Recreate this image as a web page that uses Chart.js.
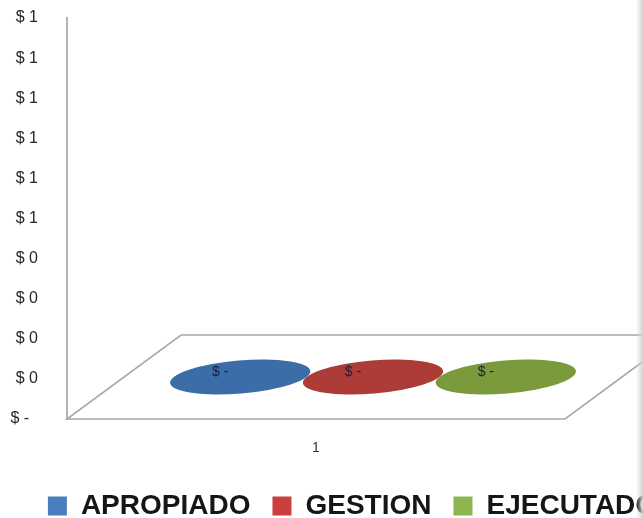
<!DOCTYPE html>
<html>
<head>
<meta charset="utf-8">
<script src="https://cdn.jsdelivr.net/npm/chart.js@4"></script>
<style>
  html, body { margin: 0; padding: 0; background: #fff; overflow: hidden; }
  #wrap { position: relative; width: 643px; height: 518px; overflow: hidden; background: #fff; }
  #box { position: absolute; left: 0; top: 0; }
  #edge { position: absolute; right: 0; top: 0; width: 7px; height: 518px;
          background: linear-gradient(to right, rgba(215,215,215,0), #d2d2d2); }
</style>
</head>
<body>
<div id="wrap">
  <div id="box"><canvas id="chart" width="705" height="530"></canvas></div>
  <div id="edge"></div>
</div>
<script>
// data (all three series are zero)
const categories = ["1"];
const seriesNames = ["APROPIADO", "GESTION", "EJECUTADO"];
const apropiado = [0];
const gestion = [0];
const ejecutado = [0];
const yTickLabels = ["$ -  ", "$ 0", "$ 0", "$ 0", "$ 0", "$ 1", "$ 1", "$ 1", "$ 1", "$ 1", "$ 1"];

// colours
const legendColors = ["#4a7ebf", "#c9403c", "#8db44e"];
const topColors = ["#3d6da8", "#ad3b38", "#7a9a3c"];

// fake 3d depth of the floor
const DEPTH_X = 114;
const DEPTH_Y = 84;

const fmtMoney = v => v === 0 ? "$ -" : "$ " + Math.round(v);

const floorPlugin = {
  id: "floor3d",
  beforeDatasetsDraw(chart) {
    const { ctx, chartArea: a } = chart;
    ctx.save();
    ctx.strokeStyle = "#a8a8a8";
    ctx.lineWidth = 1.6;
    ctx.beginPath();
    ctx.moveTo(a.left, a.bottom);
    ctx.lineTo(a.right, a.bottom);
    ctx.lineTo(a.right + DEPTH_X, a.bottom - DEPTH_Y);
    ctx.lineTo(a.left + DEPTH_X, a.bottom - DEPTH_Y);
    ctx.closePath();
    ctx.stroke();
    ctx.restore();
  },
  afterDatasetsDraw(chart) {
    const { ctx } = chart;
    const yScale = chart.scales.y;
    chart.data.datasets.forEach((ds, i) => {
      const bar = chart.getDatasetMeta(i).data[0];
      const cx = bar.x + DEPTH_X / 2;
      const cy = yScale.getPixelForValue(ds.data[0]) - DEPTH_Y / 2;
      ctx.save();
      ctx.fillStyle = topColors[i];
      ctx.beginPath();
      ctx.ellipse(cx, cy, bar.width * 0.53, 16.5, -0.085, 0, Math.PI * 2);
      ctx.fill();
      ctx.fillStyle = "#1a2040";
      ctx.font = "14px 'Liberation Sans', sans-serif";
      ctx.textAlign = "center";
      ctx.textBaseline = "middle";
      ctx.fillText(fmtMoney(ds.data[0]), cx - 20, cy - 5);
      ctx.restore();
    });
  }
};

const ctx = document.getElementById("chart").getContext("2d");
const chart = new Chart(ctx, {
  type: "bar",
  data: {
    labels: categories,
    datasets: [
      { label: seriesNames[0], data: apropiado, backgroundColor: legendColors[0], borderWidth: 0, yAxisID: "y" },
      { label: seriesNames[1], data: gestion, backgroundColor: legendColors[1], borderWidth: 0, yAxisID: "y" },
      { label: seriesNames[2], data: ejecutado, backgroundColor: legendColors[2], borderWidth: 0, yAxisID: "y" }
    ]
  },
  options: {
    responsive: false,
    animation: false,
    layout: { padding: { top: 18 } },
    datasets: { bar: { categoryPercentage: 0.8, barPercentage: 1.0 } },
    plugins: {
      tooltip: { enabled: false },
      legend: {
        position: "bottom",
        labels: {
          boxWidth: 19,
          boxHeight: 19,
          padding: 22,
          color: "#161616",
          font: { family: "'Liberation Sans', Arial, sans-serif", size: 28, weight: "bold" }
        }
      }
    },
    scales: {
      x: {
        grid: { display: false, drawTicks: false },
        border: { display: false },
        ticks: { color: "#333", padding: 21, font: { family: "'Liberation Sans', sans-serif", size: 14 } },
        afterFit(scale) { scale.height = 51; }
      },
      y: {
        min: 0,
        max: 1,
        grid: { display: false, drawTicks: false },
        border: { display: true, color: "#b4b4b4", width: 2 },
        ticks: {
          stepSize: 0.1,
          padding: 29,
          color: "#262626",
          font: { family: "'Liberation Sans', sans-serif", size: 16 },
          callback: (value, index) => yTickLabels[index]
        },
        afterFit(scale) {
          scale.width = 67;
          scale.paddingTop = 9;
          scale.paddingBottom = 9;
        }
      },
      yRight: {
        axis: "y",
        position: "right",
        grid: { display: false, drawTicks: false },
        border: { display: false },
        ticks: { display: false },
        afterFit(scale) { scale.width = 140; }
      }
    }
  },
  plugins: [floorPlugin]
});
</script>
</body>
</html>
